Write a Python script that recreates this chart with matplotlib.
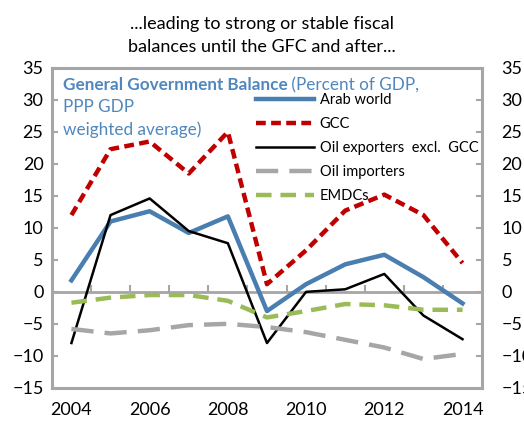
import numpy as np
import matplotlib
matplotlib.use('Agg')
import matplotlib.pyplot as plt
from matplotlib.transforms import ScaledTranslation

plt.rcParams['font.family'] = ['Lato', 'DejaVu Sans']

# data (percent of GDP)
years = list(range(2004, 2015))
arab_world = [1.8, 11.0, 12.6, 9.2, 11.8, -3.0, 1.2, 4.3, 5.8, 2.3, -1.8]
gcc = [12.0, 22.3, 23.5, 18.5, 25.0, 1.2, 6.5, 12.7, 15.2, 12.0, 4.5]
oil_ex_gcc = [-8.0, 12.0, 14.6, 9.5, 7.6, -8.0, 0.0, 0.4, 2.8, -3.7, -7.4]
oil_importers = [-5.8, -6.5, -6.0, -5.2, -5.0, -5.5, -6.3, -7.5, -8.7, -10.5, -9.7]
emdcs = [-1.7, -0.9, -0.5, -0.5, -1.4, -4.0, -3.0, -1.9, -2.1, -2.8, -2.8]
yticks = list(range(-15, 40, 5))
xticks = [2004, 2006, 2008, 2010, 2012, 2014]

BLUE = '#4a7eb0'
RED = '#c00000'
GRAY = '#a6a6a6'
GREEN = '#9bbb59'
TXTBLUE = '#4f87be'

fig = plt.figure(figsize=(5.24, 4.22), dpi=100)
ax = fig.add_axes([0.099, 0.081, 0.821, 0.758])

ax.plot(years, arab_world, color=BLUE, lw=3.2, label='Arab world')
ax.plot(years, gcc, color=RED, lw=3.2, ls=(0, (2.2, 1.2)), label='GCC')
ax.plot(years, oil_ex_gcc, color='black', lw=1.8, label='Oil exporters  excl.  GCC')
ax.plot(years, oil_importers, color=GRAY, lw=3.2, ls=(0, (5, 2.5)), label='Oil importers')
ax.plot(years, emdcs, color=GREEN, lw=3.2, ls=(0, (3.5, 2)), label='EMDCs')

ax.set_xlim(2003.5, 2014.5)
ax.set_ylim(-15, 35)
ax.set_yticks(yticks)
ax.set_xticks(xticks)
ax.tick_params(axis='y', direction='in', length=4, width=1.5, color=GRAY,
               labelsize=13, right=True, labelright=True, pad=6)
ax.tick_params(axis='x', length=0, labelsize=13, pad=10)
for s in ax.spines.values():
    s.set_color(GRAY)
    s.set_linewidth(2.2)

# push the right-hand labels further out from the frame
shift = ScaledTranslation(8 / 72, 0, fig.dpi_scale_trans)
for t in ax.yaxis.get_major_ticks():
    t.label2.set_transform(t.label2.get_transform() + shift)

# category axis crossing at zero, with tick marks between categories
zx = ax.secondary_xaxis(15 / 50)
zx.set_xticks([y + 0.5 for y in years[:-1]])
zx.tick_params(direction='in', length=5, width=1.5, color=GRAY, labelbottom=False)
zx.spines['bottom'].set_color(GRAY)
zx.spines['bottom'].set_linewidth(2)

leg = ax.legend(loc='upper left', bbox_to_anchor=(0.46, 0.94), frameon=False,
                fontsize=10.5, handlelength=4.0, handletextpad=0.4,
                labelspacing=0.68, borderaxespad=0)

t1 = ax.text(0.025, 0.947, 'General Government Balance', transform=ax.transAxes,
             fontsize=12.3, fontweight='bold', color=TXTBLUE, va='center')
ax.annotate(' (Percent of GDP,', xy=(1, 0.5), xycoords=t1, fontsize=12.3,
            color=TXTBLUE, va='center')
ax.text(0.025, 0.878, 'PPP GDP', transform=ax.transAxes,
        fontsize=12.3, color=TXTBLUE, va='center')
ax.text(0.025, 0.806, 'weighted average)', transform=ax.transAxes,
        fontsize=12.3, color=TXTBLUE, va='center')

fig.text(0.5, 0.943, '...leading to strong or stable fiscal',
         ha='center', va='center', fontsize=13)
fig.text(0.5, 0.889, 'balances until the GFC and after...',
         ha='center', va='center', fontsize=13)

fig.savefig('out.png', dpi=100)
